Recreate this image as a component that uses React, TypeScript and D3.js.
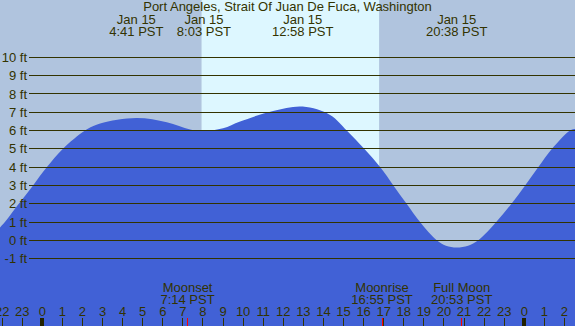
import React from 'react'
import * as d3 from 'd3'

// tide height readings (hours from midnight Jan 15, feet)
const tideHours = [-2.11, -1.86, -1.17, -0.46, 0.23, 1.03, 2.13, 2.88, 4.68, 6.2, 7.36, 8.05, 9.0, 9.85, 11.49, 12.97, 14.33, 15.16, 16.03, 16.82, 17.48, 18.14, 18.81, 19.64, 20.1, 20.63, 21.2, 21.71, 22.6, 23.36, 24.04, 24.7, 25.38, 26.28, 26.53]
const tideFeet = [0.7, 1, 2, 3, 4, 5, 6, 6.38, 6.68, 6.45, 6.05, 5.97, 6.12, 6.49, 7.07, 7.31, 6.85, 6, 5, 4, 3, 2, 1, 0, -0.3, -0.4, -0.3, 0, 1, 2, 3, 4, 5, 6, 6.08]

// high / low tide labels along the top
const eventDates = ['Jan 15', 'Jan 15', 'Jan 15', 'Jan 15']
const eventTimes = ['4:41 PST', '8:03 PST', '12:58 PST', '20:38 PST']
const eventHours = [4.683, 8.05, 12.967, 20.633]

// moon events along the bottom
const moonNames = ['Moonset', 'Moonrise', 'Full Moon']
const moonTimes = ['7:14 PST', '16:55 PST', '20:53 PST']
const moonHours = [7.233, 16.917, 20.883]

const sunrise = 7.93
const sunset = 16.77

const feetTicks = [-1, 0, 1, 2, 3, 4, 5, 6, 7, 8, 9, 10]
const hourTicks = d3.range(-2, 27)

const title = 'Port Angeles, Strait Of Juan De Fuca, Washington'

function App() {
  const width = 575
  const height = 326
  const ink = '#333300'
  const font = '"Liberation Sans", Arial, sans-serif'

  // one hour is about 20px, midnight sits at x = 42
  const x = d3.scaleLinear().domain([0, 24]).range([42.3, 524.3])
  const y = d3.scaleLinear().domain([0, 10]).range([240.3, 57.3])

  const points: [number, number][] = tideHours.map((h, i) => [h, tideFeet[i]])
  const area = d3
    .area<[number, number]>()
    .x(d => x(d[0]))
    .y0(height)
    .y1(d => y(d[1]))
    .curve(d3.curveCatmullRom.alpha(0.5))

  return (
    <svg width={width} height={height} style={{ position: 'absolute', left: 0, top: 0, display: 'block' }} fontFamily={font} fontSize={13}>
      <rect width={width} height={height} fill="#b0c4de" />
      {/* daylight */}
      <rect x={x(sunrise)} width={x(sunset) - x(sunrise)} height={height} fill="#ddf7ff" />

      <path d={area(points) || ''} fill="#4161d6" />

      {/* feet grid */}
      {feetTicks.map(v => (
        <g key={v}>
          <line x1={29} x2={width} y1={y(v)} y2={y(v)} stroke={ink} strokeWidth={1} shapeRendering="crispEdges" />
          <text x={27} y={y(v) + 4.6} textAnchor="end" fill={ink}>{`${v} ft`}</text>
        </g>
      ))}

      <text x={width / 2} y={11} textAnchor="middle" fill={ink}>{title}</text>
      {eventHours.map((h, i) => (
        <g key={h}>
          <text x={x(h)} y={24} textAnchor="middle" fill={ink}>{eventDates[i]}</text>
          <text x={x(h)} y={36} textAnchor="middle" fill={ink}>{eventTimes[i]}</text>
        </g>
      ))}

      {moonHours.map((h, i) => (
        <g key={h}>
          <text x={x(h)} y={292} textAnchor="middle" fill={ink}>{moonNames[i]}</text>
          <text x={x(h)} y={304} textAnchor="middle" fill={ink}>{moonTimes[i]}</text>
          <line x1={x(h)} x2={x(h)} y1={318} y2={height} stroke="#ff0000" strokeWidth={1} shapeRendering="crispEdges" />
        </g>
      ))}

      {/* hour axis */}
      {hourTicks.map(h => {
        const midnight = h % 24 === 0
        return (
          <g key={h}>
            <text x={x(h)} y={316} textAnchor="middle" fill={ink}>{((h % 24) + 24) % 24}</text>
            <line x1={x(h)} x2={x(h)} y1={318} y2={height} stroke={midnight ? '#222200' : ink} strokeWidth={midnight ? 4 : 1} shapeRendering="crispEdges" />
          </g>
        )
      })}
    </svg>
  )
}

export default App
